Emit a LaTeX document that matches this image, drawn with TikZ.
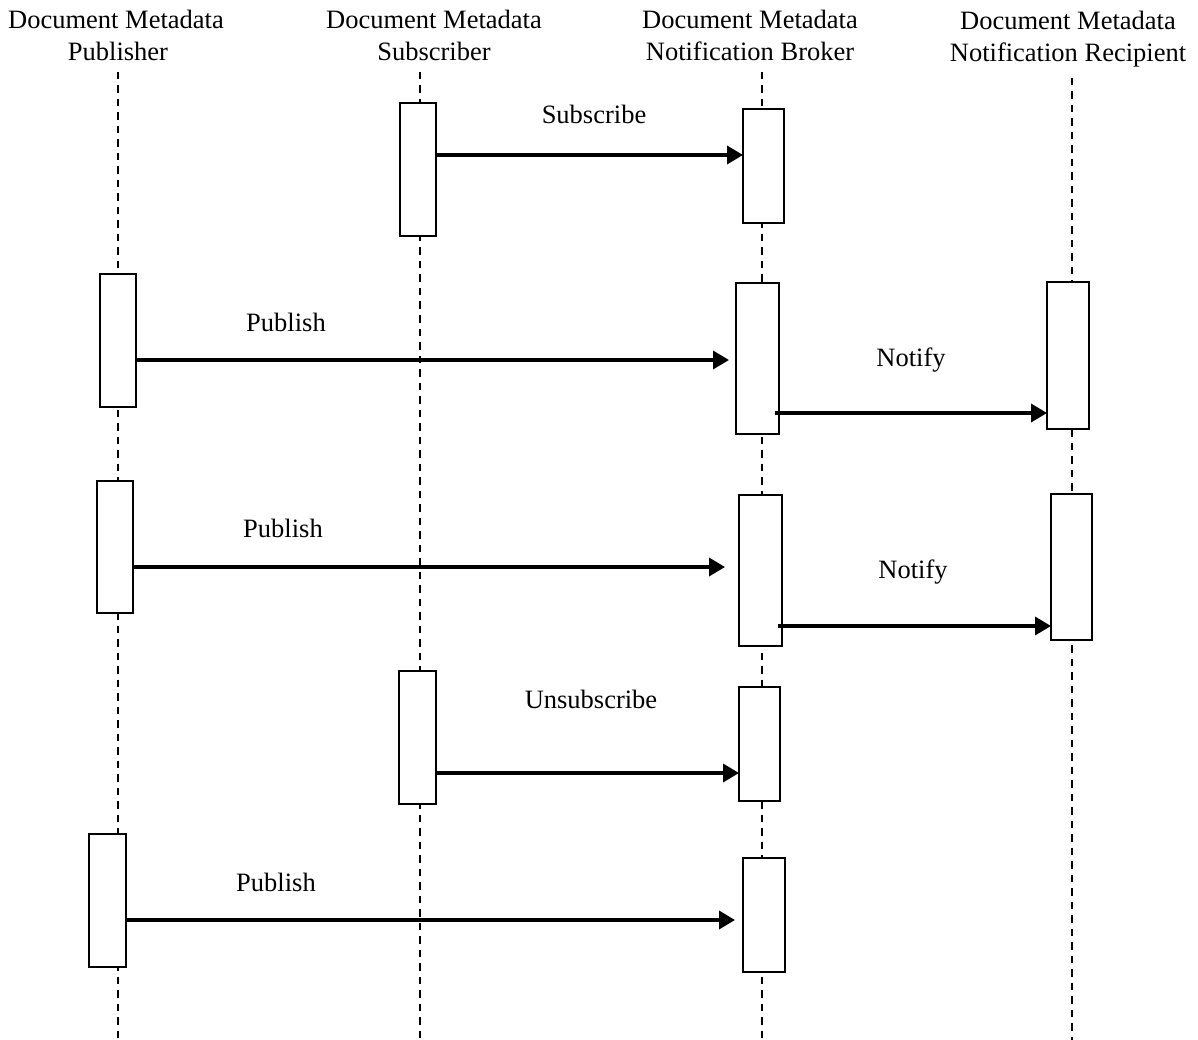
\documentclass[tikz,border=0pt]{standalone}
\usepackage{fontspec}
\setmainfont{Liberation Serif}
\usetikzlibrary{arrows.meta}

\begin{document}
\begin{tikzpicture}[x=1pt,y=-1pt,
  life/.style={line width=2.5pt,dash pattern=on 7.5pt off 6pt},
  act/.style={draw,fill=white,line width=2pt,inner sep=0pt,outer sep=0pt},
  msg/.style={line width=3.6pt,-{Triangle[length=16pt,width=18pt]}},
  lbl/.style={font=\fontsize{26.5}{32}\selectfont,inner sep=0pt,anchor=base}]
\useasboundingbox (0,0) rectangle (1198,1040);
% headers
\node[lbl] (pubHdA) at (116,29) {Document Metadata};
\node[lbl] (pubHdB) at (118,61) {Publisher};
\node[lbl] (subHdA) at (434,29) {Document Metadata};
\node[lbl] (subHdB) at (434,61) {Subscriber};
\node[lbl] (brkHdA) at (750,29) {Document Metadata};
\node[lbl] (brkHdB) at (750,61) {Notification Broker};
\node[lbl] (rcpHdA) at (1068,30) {Document Metadata};
\node[lbl] (rcpHdB) at (1068,62) {Notification Recipient};
% lifelines
\coordinate (pubTop) at (118,72);
\coordinate (subTop) at (420,72);
\coordinate (brkTop) at (762,72);
\coordinate (rcpTop) at (1072,78);
\draw[life] (pubTop) -- (pubTop |- 0,1040);
\draw[life] (subTop) -- (subTop |- 0,1040);
\draw[life] (brkTop) -- (brkTop |- 0,1040);
\draw[life] (rcpTop) -- (rcpTop |- 0,1040);
%%%%%%%%%%%%%%%%%%%%%%%%%%%%%%%%%
\node[act,minimum width=36pt,minimum height=133pt] (sub1) at (418,169.5) {};
\node[act,minimum width=41pt,minimum height=114pt] (brk1) at (763.5,166) {};
\node[act,minimum width=36pt,minimum height=133pt] (pub1) at (118,340.5) {};
\node[act,minimum width=43pt,minimum height=151pt] (brk2) at (757.5,358.5) {};
\node[act,minimum width=42pt,minimum height=147pt] (rcp1) at (1068,355.5) {};
\node[act,minimum width=36pt,minimum height=132pt] (pub2) at (115,547) {};
\node[act,minimum width=43pt,minimum height=151pt] (brk3) at (760.5,570.5) {};
\node[act,minimum width=41pt,minimum height=146pt] (rcp2) at (1071.5,567) {};
\node[act,minimum width=37pt,minimum height=133pt] (sub2) at (417.5,737.5) {};
\node[act,minimum width=41pt,minimum height=114pt] (brk4) at (759.5,744) {};
\node[act,minimum width=37pt,minimum height=133pt] (pub3) at (107.5,900.5) {};
\node[act,minimum width=42pt,minimum height=114pt] (brk5) at (764,915) {};
%%%%%%%%%%%%%%%%%%%%%%%%%%%%%%%%%
\draw[msg] (sub1.east |- 0,155) -- (brk1.west |- 0,155);
\node[lbl] (subscribe) at (594,124) {Subscribe};
\draw[msg,shorten >=7pt] (pub1.east |- 0,360) -- (brk2.west |- 0,360);
\node[lbl] (publish1) at (286,331) {Publish};
\draw[msg,shorten <=-4pt] (brk2.east |- 0,413) -- (rcp1.west |- 0,413);
\node[lbl] (notify1) at (911,366) {Notify};
\draw[msg,shorten >=14pt] (pub2.east |- 0,567) -- (brk3.west |- 0,567);
\node[lbl] (publish2) at (283,537) {Publish};
\draw[msg,shorten <=-4pt] (brk3.east |- 0,626) -- (rcp2.west |- 0,626);
\node[lbl] (notify2) at (913,578) {Notify};
\draw[msg] (sub2.east |- 0,773) -- (brk4.west |- 0,773);
\node[lbl] (unsubscribe) at (591,708) {Unsubscribe};
\draw[msg,shorten >=8pt] (pub3.east |- 0,920) -- (brk5.west |- 0,920);
\node[lbl] (publish3) at (276,891) {Publish};
\end{tikzpicture}
\end{document}
